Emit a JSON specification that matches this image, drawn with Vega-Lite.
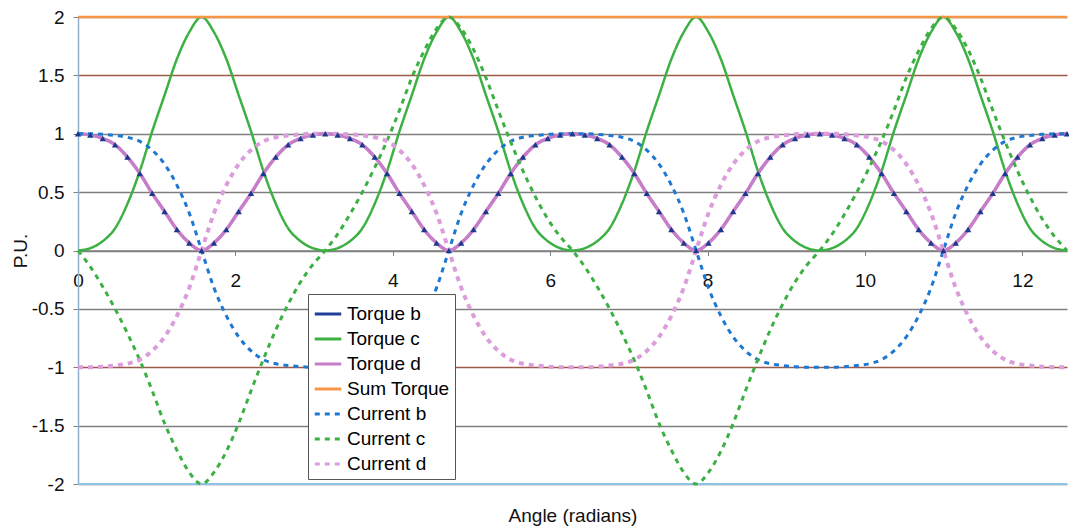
{
  "$schema": "https://vega.github.io/schema/vega-lite/v6.json",
  "width": 989,
  "height": 467,
  "autosize": {"type": "none"},
  "padding": {"left": 78, "top": 17, "right": 2, "bottom": 46},
  "background": "white",
  "config": {"view": {"stroke": null}, "font": "Liberation Sans"},
  "data": {"values": [
    {"x":0,"Torque b":1,"Torque c":0,"Torque d":1,"Sum Torque":2,"Current b":1,"Current c":0,"Current d":-1},
    {"x":0.1571,"Torque b":0.99,"Torque c":0.02,"Torque d":0.99,"Sum Torque":2,"Current b":1,"Current c":-0.14,"Current d":-1},
    {"x":0.3142,"Torque b":0.96,"Torque c":0.08,"Torque d":0.96,"Sum Torque":2,"Current b":0.995,"Current c":-0.31,"Current d":-0.995},
    {"x":0.4712,"Torque b":0.905,"Torque c":0.19,"Torque d":0.905,"Sum Torque":2,"Current b":0.985,"Current c":-0.5,"Current d":-0.985},
    {"x":0.6283,"Torque b":0.8,"Torque c":0.4,"Torque d":0.8,"Sum Torque":2,"Current b":0.97,"Current c":-0.71,"Current d":-0.97},
    {"x":0.7854,"Torque b":0.66,"Torque c":0.68,"Torque d":0.66,"Sum Torque":2,"Current b":0.935,"Current c":-0.94,"Current d":-0.935},
    {"x":0.9425,"Torque b":0.49,"Torque c":1.02,"Torque d":0.49,"Sum Torque":2,"Current b":0.86,"Current c":-1.2,"Current d":-0.86},
    {"x":1.0996,"Torque b":0.335,"Torque c":1.33,"Torque d":0.335,"Sum Torque":2,"Current b":0.74,"Current c":-1.48,"Current d":-0.74},
    {"x":1.2566,"Torque b":0.18,"Torque c":1.64,"Torque d":0.18,"Sum Torque":2,"Current b":0.56,"Current c":-1.71,"Current d":-0.56},
    {"x":1.4137,"Torque b":0.065,"Torque c":1.87,"Torque d":0.065,"Sum Torque":2,"Current b":0.32,"Current c":-1.9,"Current d":-0.32},
    {"x":1.5708,"Torque b":0,"Torque c":2,"Torque d":0,"Sum Torque":2,"Current b":0,"Current c":-2,"Current d":0},
    {"x":1.7279,"Torque b":0.065,"Torque c":1.87,"Torque d":0.065,"Sum Torque":2,"Current b":-0.32,"Current c":-1.9,"Current d":0.32},
    {"x":1.885,"Torque b":0.18,"Torque c":1.64,"Torque d":0.18,"Sum Torque":2,"Current b":-0.56,"Current c":-1.72,"Current d":0.56},
    {"x":2.042,"Torque b":0.335,"Torque c":1.33,"Torque d":0.335,"Sum Torque":2,"Current b":-0.74,"Current c":-1.48,"Current d":0.74},
    {"x":2.1991,"Torque b":0.49,"Torque c":1.02,"Torque d":0.49,"Sum Torque":2,"Current b":-0.86,"Current c":-1.2,"Current d":0.86},
    {"x":2.3562,"Torque b":0.66,"Torque c":0.68,"Torque d":0.66,"Sum Torque":2,"Current b":-0.935,"Current c":-0.93,"Current d":0.935},
    {"x":2.5133,"Torque b":0.8,"Torque c":0.4,"Torque d":0.8,"Sum Torque":2,"Current b":-0.97,"Current c":-0.68,"Current d":0.97},
    {"x":2.6704,"Torque b":0.905,"Torque c":0.19,"Torque d":0.905,"Sum Torque":2,"Current b":-0.985,"Current c":-0.46,"Current d":0.985},
    {"x":2.8274,"Torque b":0.96,"Torque c":0.08,"Torque d":0.96,"Sum Torque":2,"Current b":-0.995,"Current c":-0.27,"Current d":0.995},
    {"x":2.9845,"Torque b":0.99,"Torque c":0.02,"Torque d":0.99,"Sum Torque":2,"Current b":-1,"Current c":-0.12,"Current d":1},
    {"x":3.1416,"Torque b":1,"Torque c":0,"Torque d":1,"Sum Torque":2,"Current b":-1,"Current c":0,"Current d":1},
    {"x":3.2987,"Torque b":0.99,"Torque c":0.02,"Torque d":0.99,"Sum Torque":2,"Current b":-1,"Current c":0.14,"Current d":1},
    {"x":3.4558,"Torque b":0.96,"Torque c":0.08,"Torque d":0.96,"Sum Torque":2,"Current b":-0.995,"Current c":0.31,"Current d":0.995},
    {"x":3.6128,"Torque b":0.905,"Torque c":0.19,"Torque d":0.905,"Sum Torque":2,"Current b":-0.985,"Current c":0.5,"Current d":0.985},
    {"x":3.7699,"Torque b":0.8,"Torque c":0.4,"Torque d":0.8,"Sum Torque":2,"Current b":-0.97,"Current c":0.71,"Current d":0.97},
    {"x":3.927,"Torque b":0.66,"Torque c":0.68,"Torque d":0.66,"Sum Torque":2,"Current b":-0.935,"Current c":0.94,"Current d":0.935},
    {"x":4.0841,"Torque b":0.49,"Torque c":1.02,"Torque d":0.49,"Sum Torque":2,"Current b":-0.86,"Current c":1.2,"Current d":0.86},
    {"x":4.2412,"Torque b":0.335,"Torque c":1.33,"Torque d":0.335,"Sum Torque":2,"Current b":-0.74,"Current c":1.48,"Current d":0.74},
    {"x":4.3982,"Torque b":0.18,"Torque c":1.64,"Torque d":0.18,"Sum Torque":2,"Current b":-0.56,"Current c":1.71,"Current d":0.56},
    {"x":4.5553,"Torque b":0.065,"Torque c":1.87,"Torque d":0.065,"Sum Torque":2,"Current b":-0.32,"Current c":1.9,"Current d":0.32},
    {"x":4.7124,"Torque b":0,"Torque c":2,"Torque d":0,"Sum Torque":2,"Current b":0,"Current c":2,"Current d":0},
    {"x":4.8695,"Torque b":0.065,"Torque c":1.87,"Torque d":0.065,"Sum Torque":2,"Current b":0.32,"Current c":1.9,"Current d":-0.32},
    {"x":5.0265,"Torque b":0.18,"Torque c":1.64,"Torque d":0.18,"Sum Torque":2,"Current b":0.56,"Current c":1.72,"Current d":-0.56},
    {"x":5.1836,"Torque b":0.335,"Torque c":1.33,"Torque d":0.335,"Sum Torque":2,"Current b":0.74,"Current c":1.48,"Current d":-0.74},
    {"x":5.3407,"Torque b":0.49,"Torque c":1.02,"Torque d":0.49,"Sum Torque":2,"Current b":0.86,"Current c":1.2,"Current d":-0.86},
    {"x":5.4978,"Torque b":0.66,"Torque c":0.68,"Torque d":0.66,"Sum Torque":2,"Current b":0.935,"Current c":0.93,"Current d":-0.935},
    {"x":5.6549,"Torque b":0.8,"Torque c":0.4,"Torque d":0.8,"Sum Torque":2,"Current b":0.97,"Current c":0.68,"Current d":-0.97},
    {"x":5.8119,"Torque b":0.905,"Torque c":0.19,"Torque d":0.905,"Sum Torque":2,"Current b":0.985,"Current c":0.46,"Current d":-0.985},
    {"x":5.969,"Torque b":0.96,"Torque c":0.08,"Torque d":0.96,"Sum Torque":2,"Current b":0.995,"Current c":0.27,"Current d":-0.995},
    {"x":6.1261,"Torque b":0.99,"Torque c":0.02,"Torque d":0.99,"Sum Torque":2,"Current b":1,"Current c":0.12,"Current d":-1},
    {"x":6.2832,"Torque b":1,"Torque c":0,"Torque d":1,"Sum Torque":2,"Current b":1,"Current c":0,"Current d":-1},
    {"x":6.4403,"Torque b":0.99,"Torque c":0.02,"Torque d":0.99,"Sum Torque":2,"Current b":1,"Current c":-0.14,"Current d":-1},
    {"x":6.5974,"Torque b":0.96,"Torque c":0.08,"Torque d":0.96,"Sum Torque":2,"Current b":0.995,"Current c":-0.31,"Current d":-0.995},
    {"x":6.7544,"Torque b":0.905,"Torque c":0.19,"Torque d":0.905,"Sum Torque":2,"Current b":0.985,"Current c":-0.5,"Current d":-0.985},
    {"x":6.9115,"Torque b":0.8,"Torque c":0.4,"Torque d":0.8,"Sum Torque":2,"Current b":0.97,"Current c":-0.71,"Current d":-0.97},
    {"x":7.0686,"Torque b":0.66,"Torque c":0.68,"Torque d":0.66,"Sum Torque":2,"Current b":0.935,"Current c":-0.94,"Current d":-0.935},
    {"x":7.2257,"Torque b":0.49,"Torque c":1.02,"Torque d":0.49,"Sum Torque":2,"Current b":0.86,"Current c":-1.2,"Current d":-0.86},
    {"x":7.3828,"Torque b":0.335,"Torque c":1.33,"Torque d":0.335,"Sum Torque":2,"Current b":0.74,"Current c":-1.48,"Current d":-0.74},
    {"x":7.5398,"Torque b":0.18,"Torque c":1.64,"Torque d":0.18,"Sum Torque":2,"Current b":0.56,"Current c":-1.71,"Current d":-0.56},
    {"x":7.6969,"Torque b":0.065,"Torque c":1.87,"Torque d":0.065,"Sum Torque":2,"Current b":0.32,"Current c":-1.9,"Current d":-0.32},
    {"x":7.854,"Torque b":0,"Torque c":2,"Torque d":0,"Sum Torque":2,"Current b":0,"Current c":-2,"Current d":0},
    {"x":8.0111,"Torque b":0.065,"Torque c":1.87,"Torque d":0.065,"Sum Torque":2,"Current b":-0.32,"Current c":-1.9,"Current d":0.32},
    {"x":8.1682,"Torque b":0.18,"Torque c":1.64,"Torque d":0.18,"Sum Torque":2,"Current b":-0.56,"Current c":-1.72,"Current d":0.56},
    {"x":8.3252,"Torque b":0.335,"Torque c":1.33,"Torque d":0.335,"Sum Torque":2,"Current b":-0.74,"Current c":-1.48,"Current d":0.74},
    {"x":8.4823,"Torque b":0.49,"Torque c":1.02,"Torque d":0.49,"Sum Torque":2,"Current b":-0.86,"Current c":-1.2,"Current d":0.86},
    {"x":8.6394,"Torque b":0.66,"Torque c":0.68,"Torque d":0.66,"Sum Torque":2,"Current b":-0.935,"Current c":-0.93,"Current d":0.935},
    {"x":8.7965,"Torque b":0.8,"Torque c":0.4,"Torque d":0.8,"Sum Torque":2,"Current b":-0.97,"Current c":-0.68,"Current d":0.97},
    {"x":8.9536,"Torque b":0.905,"Torque c":0.19,"Torque d":0.905,"Sum Torque":2,"Current b":-0.985,"Current c":-0.46,"Current d":0.985},
    {"x":9.1106,"Torque b":0.96,"Torque c":0.08,"Torque d":0.96,"Sum Torque":2,"Current b":-0.995,"Current c":-0.27,"Current d":0.995},
    {"x":9.2677,"Torque b":0.99,"Torque c":0.02,"Torque d":0.99,"Sum Torque":2,"Current b":-1,"Current c":-0.12,"Current d":1},
    {"x":9.4248,"Torque b":1,"Torque c":0,"Torque d":1,"Sum Torque":2,"Current b":-1,"Current c":0,"Current d":1},
    {"x":9.5819,"Torque b":0.99,"Torque c":0.02,"Torque d":0.99,"Sum Torque":2,"Current b":-1,"Current c":0.14,"Current d":1},
    {"x":9.739,"Torque b":0.96,"Torque c":0.08,"Torque d":0.96,"Sum Torque":2,"Current b":-0.995,"Current c":0.31,"Current d":0.995},
    {"x":9.896,"Torque b":0.905,"Torque c":0.19,"Torque d":0.905,"Sum Torque":2,"Current b":-0.985,"Current c":0.5,"Current d":0.985},
    {"x":10.0531,"Torque b":0.8,"Torque c":0.4,"Torque d":0.8,"Sum Torque":2,"Current b":-0.97,"Current c":0.71,"Current d":0.97},
    {"x":10.2102,"Torque b":0.66,"Torque c":0.68,"Torque d":0.66,"Sum Torque":2,"Current b":-0.935,"Current c":0.94,"Current d":0.935},
    {"x":10.3673,"Torque b":0.49,"Torque c":1.02,"Torque d":0.49,"Sum Torque":2,"Current b":-0.86,"Current c":1.2,"Current d":0.86},
    {"x":10.5244,"Torque b":0.335,"Torque c":1.33,"Torque d":0.335,"Sum Torque":2,"Current b":-0.74,"Current c":1.48,"Current d":0.74},
    {"x":10.6814,"Torque b":0.18,"Torque c":1.64,"Torque d":0.18,"Sum Torque":2,"Current b":-0.56,"Current c":1.71,"Current d":0.56},
    {"x":10.8385,"Torque b":0.065,"Torque c":1.87,"Torque d":0.065,"Sum Torque":2,"Current b":-0.32,"Current c":1.9,"Current d":0.32},
    {"x":10.9956,"Torque b":0,"Torque c":2,"Torque d":0,"Sum Torque":2,"Current b":0,"Current c":2,"Current d":0},
    {"x":11.1527,"Torque b":0.065,"Torque c":1.87,"Torque d":0.065,"Sum Torque":2,"Current b":0.32,"Current c":1.9,"Current d":-0.32},
    {"x":11.3098,"Torque b":0.18,"Torque c":1.64,"Torque d":0.18,"Sum Torque":2,"Current b":0.56,"Current c":1.72,"Current d":-0.56},
    {"x":11.4668,"Torque b":0.335,"Torque c":1.33,"Torque d":0.335,"Sum Torque":2,"Current b":0.74,"Current c":1.48,"Current d":-0.74},
    {"x":11.6239,"Torque b":0.49,"Torque c":1.02,"Torque d":0.49,"Sum Torque":2,"Current b":0.86,"Current c":1.2,"Current d":-0.86},
    {"x":11.781,"Torque b":0.66,"Torque c":0.68,"Torque d":0.66,"Sum Torque":2,"Current b":0.935,"Current c":0.93,"Current d":-0.935},
    {"x":11.9381,"Torque b":0.8,"Torque c":0.4,"Torque d":0.8,"Sum Torque":2,"Current b":0.97,"Current c":0.68,"Current d":-0.97},
    {"x":12.0952,"Torque b":0.905,"Torque c":0.19,"Torque d":0.905,"Sum Torque":2,"Current b":0.985,"Current c":0.46,"Current d":-0.985},
    {"x":12.2522,"Torque b":0.96,"Torque c":0.08,"Torque d":0.96,"Sum Torque":2,"Current b":0.995,"Current c":0.27,"Current d":-0.995},
    {"x":12.4093,"Torque b":0.99,"Torque c":0.02,"Torque d":0.99,"Sum Torque":2,"Current b":1,"Current c":0.12,"Current d":-1},
    {"x":12.5664,"Torque b":1,"Torque c":0,"Torque d":1,"Sum Torque":2,"Current b":1,"Current c":0,"Current d":-1}
  ]},
  "transform": [
    {"fold": ["Torque b","Torque c","Torque d","Sum Torque","Current b","Current c","Current d"], "as": ["series","value"]}
  ],
  "encoding": {
    "x": {
      "field": "x", "type": "quantitative",
      "scale": {"domain": [0, 12.5664], "nice": false, "zero": false},
      "axis": {
        "offset": -233.5, "values": [0,2,4,6,8,10,12], "grid": false,
        "domainColor": "#7f7f7f", "domainWidth": 1.5,
        "tickColor": "#7f7f7f", "tickSize": 5, "tickWidth": 1,
        "labelPadding": 16, "labelFontSize": 19, "labelColor": "#111111",
        "labelFlush": false, "labelOverlap": false,
        "title": "Angle (radians)", "titleFontSize": 19, "titleFontWeight": "normal",
        "titleColor": "#111111", "titleY": 271, "titleBaseline": "alphabetic"
      }
    },
    "y": {
      "field": "value", "type": "quantitative",
      "scale": {"domain": [-2, 2], "nice": false},
      "axis": {
        "values": [-2,-1.5,-1,-0.5,0,0.5,1,1.5,2], "grid": true,
        "gridColor": {"condition": {"test": "datum.value === 1.5 || datum.value === -1", "value": "#9c5a48"}, "value": "#7f7f7f"},
        "gridWidth": 1.5,
        "domainColor": "#8fb0c8", "domainWidth": 1.5,
        "tickColor": "#7f7f7f", "tickSize": 5,
        "labelPadding": 9, "labelFontSize": 19, "labelColor": "#111111",
        "labelExpr": "'' + datum.value", "labelFlush": false, "labelOverlap": false,
        "title": "P.U.", "titleFontSize": 19, "titleFontWeight": "normal", "titleColor": "#111111",
        "titleX": -58, "titleY": 233.5, "titleBaseline": "middle", "titleAngle": -90, "titleAlign": "center"
      }
    },
    "color": {
      "field": "series", "type": "nominal",
      "scale": {
        "domain": ["Torque b","Torque c","Torque d","Sum Torque","Current b","Current c","Current d"],
        "range": ["#1f3d99","#3cb043","#c87dc8","#f79646","#1e78d2","#3cb043","#dc9ddc"]
      },
      "legend": {
        "orient": "none", "legendX": 230, "legendY": 277, "title": null,
        "symbolType": "stroke", "symbolSize": 700, "symbolStrokeWidth": 3,
        "labelFontSize": 19, "labelColor": "#000000", "labelOffset": 4,
        "strokeColor": "#555555", "fillColor": "white", "padding": 5, "rowPadding": 0
      }
    },
    "strokeDash": {
      "field": "series", "type": "nominal",
      "scale": {
        "domain": ["Torque b","Torque c","Torque d","Sum Torque","Current b","Current c","Current d"],
        "range": [[1,0],[1,0],[1,0],[1,0],[5,5],[5,5],[5,5]]
      },
      "legend": {
        "orient": "none", "legendX": 230, "legendY": 277, "title": null,
        "symbolType": "stroke", "symbolSize": 700, "symbolStrokeWidth": 3,
        "labelFontSize": 19, "labelColor": "#000000", "labelOffset": 4,
        "strokeColor": "#555555", "fillColor": "white", "padding": 5, "rowPadding": 0
      }
    }
  },
  "layer": [
    {
      "mark": {"type": "rule", "color": "#8dc3e6", "strokeWidth": 1.5},
      "encoding": {"y": {"datum": -2}, "x": null, "color": null, "strokeDash": null}
    },
    {
      "transform": [{"filter": {"field": "series", "oneOf": ["Torque b","Torque c","Sum Torque"]}}],
      "mark": {"type": "line", "interpolate": "monotone", "strokeWidth": 2.5}
    },
    {
      "transform": [{"filter": {"field": "series", "oneOf": ["Torque d"]}}],
      "mark": {"type": "line", "interpolate": "monotone", "strokeWidth": 3.5}
    },
    {
      "transform": [{"filter": {"field": "series", "oneOf": ["Current b","Current c"]}}],
      "mark": {"type": "line", "interpolate": "monotone", "strokeWidth": 3}
    },
    {
      "transform": [{"filter": {"field": "series", "oneOf": ["Current d"]}}],
      "mark": {"type": "line", "interpolate": "monotone", "strokeWidth": 4}
    },
    {
      "transform": [{"filter": {"field": "series", "oneOf": ["Torque b"]}}],
      "mark": {"type": "point", "shape": "triangle-up", "filled": true, "size": 40, "opacity": 1},
      "encoding": {"color": {"value": "#1a3a8c"}, "strokeDash": null}
    }
  ]
}
